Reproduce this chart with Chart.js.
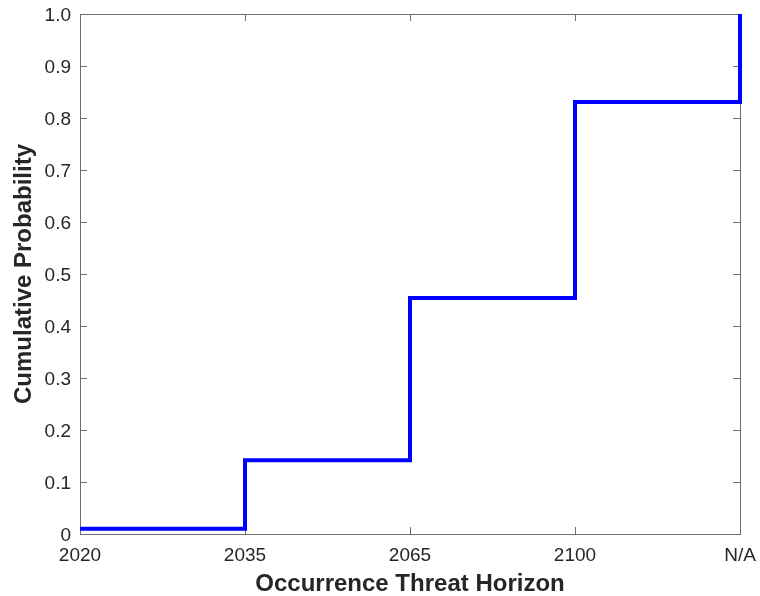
<!DOCTYPE html>
<html>
<head>
<meta charset="utf-8">
<script src="https://cdn.jsdelivr.net/npm/chart.js@4/dist/chart.umd.min.js"></script>
<style>
  html, body { margin: 0; padding: 0; background: #ffffff; }
  #wrap { width: 760px; height: 596px; position: relative; }
</style>
</head>
<body>
<div id="wrap"><canvas id="c" width="760" height="596"></canvas></div>
<script>
// ---- data ----
const categories = ['2020', '2035', '2065', '2100', 'N/A'];
const cumulativeProbability = [0.01, 0.142, 0.454, 0.831, 1.0];
const yTickValues = [0, 0.1, 0.2, 0.3, 0.4, 0.5, 0.6, 0.7, 0.8, 0.9, 1.0];
const yTickLabels = ['0', '0.1', '0.2', '0.3', '0.4', '0.5', '0.6', '0.7', '0.8', '0.9', '1.0'];
const xTitle = 'Occurrence Threat Horizon';
const yTitle = 'Cumulative Probability';

const FONT = '"Liberation Sans", Arial, Helvetica, sans-serif';
const TEXT = '#262626';
const AXIS = '#6e6e6e';
const TICK_LEN = 7;

const boxPlugin = {
  id: 'matlabBox',
  beforeDatasetsDraw(chart) {
    const { ctx, chartArea: a, scales } = chart;
    ctx.save();
    ctx.strokeStyle = AXIS;
    ctx.lineWidth = 1;
    ctx.beginPath();
    scales.x.ticks.forEach((t, i) => {
      const px = Math.round(scales.x.getPixelForTick(i)) + 0.5;
      ctx.moveTo(px, a.bottom); ctx.lineTo(px, a.bottom - TICK_LEN);
      ctx.moveTo(px, a.top); ctx.lineTo(px, a.top + TICK_LEN);
    });
    scales.y.ticks.forEach((t) => {
      const py = Math.round(scales.y.getPixelForValue(t.value)) + 0.5;
      ctx.moveTo(a.left, py); ctx.lineTo(a.left + TICK_LEN, py);
      ctx.moveTo(a.right, py); ctx.lineTo(a.right - TICK_LEN, py);
    });
    ctx.stroke();
    ctx.strokeRect(Math.round(a.left) + 0.5, Math.round(a.top) + 0.5,
                   Math.round(a.right - a.left), Math.round(a.bottom - a.top));
    ctx.restore();
  }
};

new Chart(document.getElementById('c'), {
  type: 'line',
  data: {
    labels: categories,
    datasets: [{
      data: cumulativeProbability,
      borderColor: '#0000ff',
      borderWidth: 4,
      stepped: true,
      fill: false,
      pointRadius: 0,
      pointHoverRadius: 0,
      tension: 0,
      clip: 4
    }]
  },
  options: {
    responsive: false,
    animation: false,
    events: [],
    layout: { padding: { top: 14, right: 20, left: 0, bottom: 0 } },
    plugins: { legend: { display: false }, tooltip: { enabled: false } },
    scales: {
      x: {
        type: 'category',
        offset: false,
        grid: { display: false, drawTicks: false },
        border: { display: false },
        ticks: {
          color: TEXT, padding: 10, maxRotation: 0, autoSkip: false,
          font: { family: FONT, size: 19 }
        },
        title: {
          display: true, text: xTitle, color: TEXT,
          padding: 0,
          font: { family: FONT, size: 24, weight: 'bold', lineHeight: 1 }
        },
        afterFit(s) { s.height = 62; s.paddingLeft = 0; s.paddingRight = 0; s.paddingTop = 0; s.paddingBottom = 0; }
      },
      y: {
        min: 0, max: 1,
        grid: { display: false, drawTicks: false },
        border: { display: false },
        afterBuildTicks(s) { s.ticks = yTickValues.map(v => ({ value: v })); },
        ticks: {
          color: TEXT, padding: 9, labelOffset: 2,
          font: { family: FONT, size: 19 },
          callback(value) {
            const i = yTickValues.findIndex(v => Math.abs(v - value) < 1e-9);
            return i >= 0 ? yTickLabels[i] : '';
          }
        },
        title: {
          display: true, text: yTitle, color: TEXT,
          padding: { top: 12, bottom: 0 },
          font: { family: FONT, size: 24, weight: 'bold', lineHeight: 1 }
        },
        afterFit(s) { s.width = 80; s.paddingLeft = 0; s.paddingRight = 0; s.paddingTop = 0; s.paddingBottom = 0; }
      }
    }
  },
  plugins: [boxPlugin]
});
</script>
</body>
</html>
